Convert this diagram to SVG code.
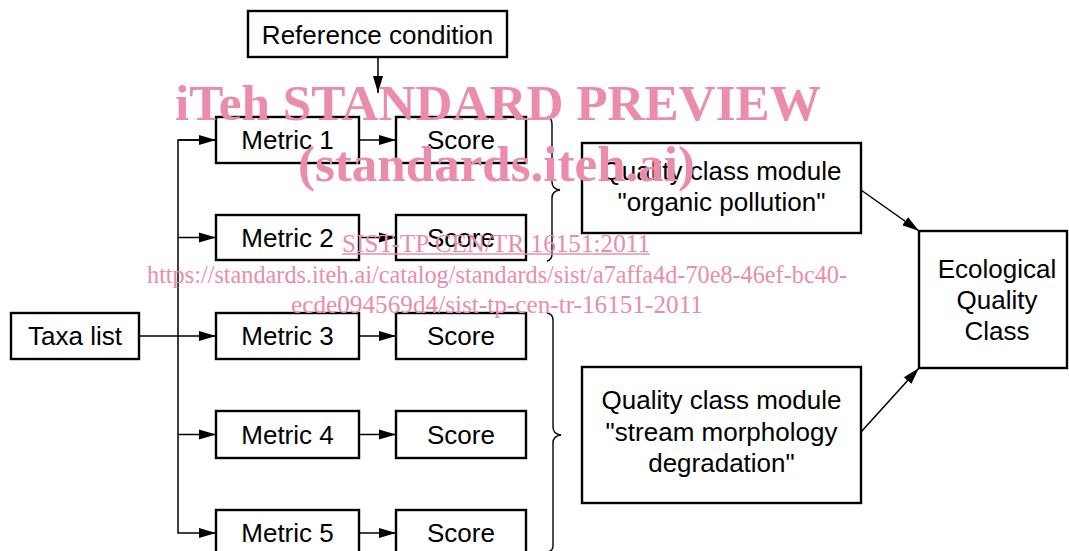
<svg xmlns="http://www.w3.org/2000/svg" width="1069" height="551" viewBox="0 0 1069 551">
<style>
.box{fill:#fff;stroke:#000;stroke-width:2.4}
.t{font-family:"Liberation Sans",Arial,sans-serif;font-size:26px;fill:#000;text-anchor:middle}
.c{fill:none;stroke:#000;stroke-width:1.5}
.br{fill:none;stroke:#000;stroke-width:1.4}
.wm{font-family:"Liberation Serif","Times New Roman",serif;fill:#ec8cab;text-anchor:middle}
</style>
<defs>
<marker id="ah" markerUnits="userSpaceOnUse" markerWidth="18" markerHeight="12" viewBox="0 0 18 12" refX="17" refY="6" orient="auto">
<path d="M0,1 L17,6 L0,11 Z" fill="#000"/>
</marker>
</defs>
<rect width="1069" height="551" fill="#fff"/>
<g id="connectors">
<line class="c" x1="378" y1="57" x2="378" y2="93" marker-end="url(#ah)"/>
<line class="c" x1="139" y1="336" x2="216" y2="336" marker-end="url(#ah)"/>
<polyline class="c" points="216,140 178,140 178,533 216,533" marker-end="url(#ah)"/>
<line class="c" x1="178" y1="140" x2="216" y2="140" marker-end="url(#ah)"/>
<line class="c" x1="178" y1="237.5" x2="216" y2="237.5" marker-end="url(#ah)"/>
<line class="c" x1="178" y1="434.5" x2="216" y2="434.5" marker-end="url(#ah)"/>
<line class="c" x1="359" y1="140" x2="396" y2="140" marker-end="url(#ah)"/>
<line class="c" x1="359" y1="237.5" x2="396" y2="237.5" marker-end="url(#ah)"/>
<line class="c" x1="359" y1="336" x2="396" y2="336" marker-end="url(#ah)"/>
<line class="c" x1="359" y1="434.5" x2="396" y2="434.5" marker-end="url(#ah)"/>
<line class="c" x1="359" y1="533" x2="396" y2="533" marker-end="url(#ah)"/>
<line class="c" x1="861" y1="190" x2="919" y2="231" marker-end="url(#ah)"/>
<line class="c" x1="861" y1="432" x2="919" y2="368" marker-end="url(#ah)"/>
<path class="br" d="M547,117 Q552,118 552,124 L552,182 Q552,189 560,190 Q552,191 552,198 L552,254 Q552,260 547,261"/>
<path class="br" d="M547,313 Q553,314 553,320 L553,427 Q553,434 561,435 Q553,436 553,443 L553,546 Q553,551 547,552"/>
</g>
<g id="ref"><rect class="box" x="248" y="11" width="259" height="46"/><text class="t" x="377.5" y="43.5">Reference condition</text></g>
<g id="taxa"><rect class="box" x="11" y="313" width="128" height="46"/><text class="t" x="75" y="345">Taxa list</text></g>
<g id="m1"><rect class="box" x="216" y="117" width="143" height="46"/><text class="t" x="287.5" y="149">Metric 1</text></g>
<g id="m2"><rect class="box" x="216" y="215" width="143" height="45"/><text class="t" x="287.5" y="246.5">Metric 2</text></g>
<g id="m3"><rect class="box" x="216" y="313" width="143" height="46"/><text class="t" x="287.5" y="345">Metric 3</text></g>
<g id="m4"><rect class="box" x="216" y="411" width="143" height="47"/><text class="t" x="287.5" y="443.5">Metric 4</text></g>
<g id="m5"><rect class="box" x="216" y="510" width="143" height="47"/><text class="t" x="287.5" y="542">Metric 5</text></g>
<g id="s1"><rect class="box" x="396" y="117" width="130" height="46"/><text class="t" x="461" y="149">Score</text></g>
<g id="s2"><rect class="box" x="396" y="215" width="130" height="45"/><text class="t" x="461" y="246.5">Score</text></g>
<g id="s3"><rect class="box" x="396" y="313" width="130" height="46"/><text class="t" x="461" y="345">Score</text></g>
<g id="s4"><rect class="box" x="396" y="411" width="130" height="47"/><text class="t" x="461" y="443.5">Score</text></g>
<g id="s5"><rect class="box" x="396" y="510" width="130" height="47"/><text class="t" x="461" y="542">Score</text></g>
<g id="qc1"><rect class="box" x="582" y="143" width="279" height="90"/><text class="t" x="721.5" y="180">Quality class module</text><text class="t" x="721.5" y="211">"organic pollution"</text></g>
<g id="qc2"><rect class="box" x="582" y="367" width="279" height="136"/><text class="t" x="721.5" y="409">Quality class module</text><text class="t" x="721.5" y="441">"stream morphology</text><text class="t" x="721.5" y="472">degradation"</text></g>
<g id="eqc"><rect class="box" x="919" y="231" width="148" height="137"/><text class="t" x="997" y="278">Ecological</text><text class="t" x="997" y="309">Quality</text><text class="t" x="997" y="340">Class</text></g>
<g id="watermark">
<text class="wm" x="498" y="120" font-size="50" font-weight="bold" textLength="646" lengthAdjust="spacingAndGlyphs">iTeh STANDARD PREVIEW</text>
<text class="wm" x="496.5" y="181" font-size="50" font-weight="bold" textLength="397" lengthAdjust="spacingAndGlyphs">(standards.iteh.ai)</text>
<text class="wm" x="496" y="252" font-size="25" textLength="308" lengthAdjust="spacingAndGlyphs">SIST-TP CEN/TR 16151:2011</text>
<line x1="342" y1="254" x2="650" y2="254" stroke="#ec8cab" stroke-width="1.3"/>
<text class="wm" x="497" y="283" font-size="25" textLength="700" lengthAdjust="spacingAndGlyphs">https://standards.iteh.ai/catalog/standards/sist/a7affa4d-70e8-46ef-bc40-</text>
<text class="wm" x="497" y="313" font-size="25" textLength="412" lengthAdjust="spacingAndGlyphs">ecde094569d4/sist-tp-cen-tr-16151-2011</text>
</g>
</svg>
